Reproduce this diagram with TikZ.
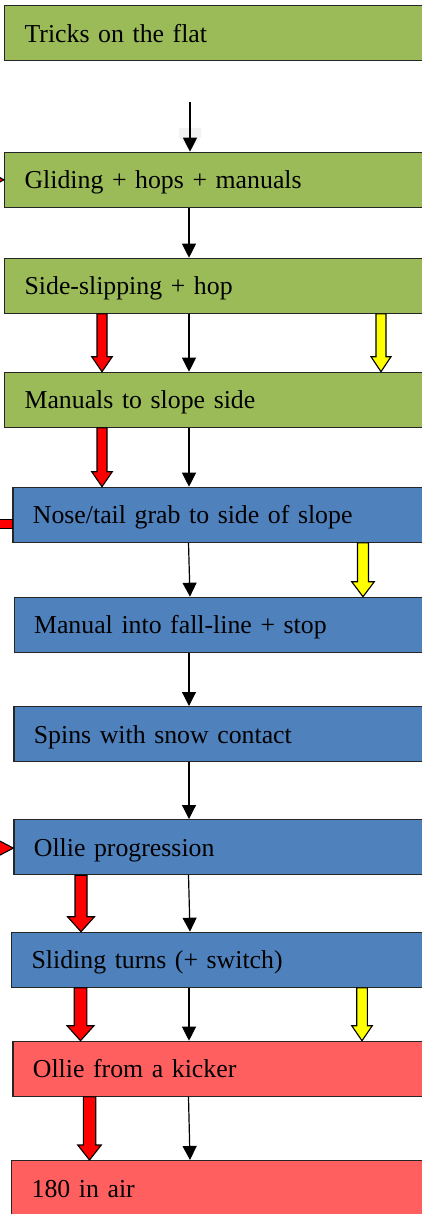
\documentclass[tikz,border=0pt]{standalone}
\usepackage{fontspec}
\setmainfont{Liberation Serif}
\usetikzlibrary{arrows.meta,calc}
\definecolor{boxgreen}{HTML}{9BBB59}
\definecolor{boxblue}{HTML}{4F81BD}
\definecolor{boxred}{HTML}{FF5F5F}
\definecolor{arrred}{HTML}{FF0000}
\definecolor{arryellow}{HTML}{FFFF00}
\tikzset{
  box/.style={draw=black!85, line width=1.2pt, rectangle, anchor=north west,
    minimum height=55pt, inner xsep=20pt, inner ysep=0pt, text width=400pt,
    align=left, text height=18pt, text depth=0pt,
    font=\fontsize{25.8}{30}\selectfont},
  greenbox/.style={box, fill=boxgreen},
  bluebox/.style={box, fill=boxblue},
  redbox/.style={box, fill=boxred},
  arr/.style={-{Triangle[width=14pt,length=14pt]}, line width=1.2pt, black},
  blockred/.style={draw=black, line width=1.1pt, fill=arrred, line join=miter},
  blockyellow/.style={draw=black, line width=1.1pt, fill=arryellow, line join=miter},
  faint/.style={fill=black!5, draw=none}
}
\newcommand\blockarr[6]{%
  \coordinate (ba-s) at (#2 |- #3.south);
  \coordinate (ba-e) at (#2 |- #4.north);
  \draw[#1] ([xshift=-#5pt]ba-s) -- ([xshift=-#5pt,yshift=15pt]ba-e)
    -- ([xshift=-#6pt,yshift=15pt]ba-e) -- (ba-e)
    -- ([xshift=#6pt,yshift=15pt]ba-e) -- ([xshift=#5pt,yshift=15pt]ba-e)
    -- ([xshift=#5pt]ba-s) -- cycle;}
\begin{document}
\begin{tikzpicture}[x=1pt,y=-1pt]
\useasboundingbox (0,0) rectangle (422,1214);
\clip (0,0) rectangle (422,1214);

% boxes
\node[greenbox] (b1) at (4,5) {Tricks on the flat};
\node[greenbox] (b2) at (4,151.7) {Gliding + hops + manuals};
\node[greenbox] (b3) at (4,257.7) {Side-slipping + hop};
\node[greenbox] (b4) at (4,371.7) {Manuals to slope side};
\node[bluebox] (b5) at (12.3,486.7) {Nose/tail grab to side of slope};
\node[bluebox] (b6) at (13.5,596.7) {Manual into fall-line + stop};
\node[bluebox] (b7) at (13.3,706) {Spins with snow contact};
\node[bluebox] (b8) at (13.3,819) {Ollie progression};
\node[bluebox] (b9) at (11,931.7) {Sliding turns (+ switch)};
\node[redbox] (b10) at (12.3,1040.7) {Ollie from a kicker};
\node[redbox] (b11) at (11,1160) {180 in air};

% x positions
\coordinate (x188) at (188.5,0);
\coordinate (x189) at (189,0);
\coordinate (x190) at (190,0);
\coordinate (start) at (190,102);

% faint arrow behind top connector
\fill[faint] (179,128) -- (201,128) -- (201,137) -- (190,150) -- (179,137) -- cycle;

% black connectors
\draw[arr] (start) -- (x190 |- b2.north);
\draw[arr] (x189 |- b2.south) -- (x189 |- b3.north);
\draw[arr] (x189 |- b3.south) -- (x189 |- b4.north);
\draw[arr] (x189 |- b4.south) -- (x189 |- b5.north);
\draw[arr] (x188 |- b5.south) -- (x190 |- b6.north);
\draw[arr] (x189 |- b6.south) -- (x189 |- b7.north);
\draw[arr] (x189 |- b7.south) -- (x189 |- b8.north);
\draw[arr] (x188 |- b8.south) -- (x190 |- b9.north);
\draw[arr] (x189 |- b9.south) -- (x189 |- b10.north);
\draw[arr] (x188 |- b10.south) -- (x190 |- b11.north);

% block arrows
\coordinate (r1) at (102,0);
\coordinate (y1) at (381,0);
\coordinate (y2) at (363,0);
\coordinate (r2) at (81,0);
\coordinate (r3) at (80.5,0);
\coordinate (y3) at (362,0);
\coordinate (r4) at (89.5,0);
\blockarr{blockred}{r1}{b3}{b4}{5}{10.3}
\blockarr{blockyellow}{y1}{b3}{b4}{5}{10}
\blockarr{blockred}{r1}{b4}{b5}{5}{10.3}
\blockarr{blockyellow}{y2}{b5}{b6}{5.5}{11.3}
\blockarr{blockred}{r2}{b8}{b9}{6}{13.5}
\blockarr{blockred}{r3}{b9}{b10}{6.3}{13.5}
\blockarr{blockyellow}{y3}{b9}{b10}{5.3}{10.3}
\blockarr{blockred}{r4}{b10}{b11}{6.2}{11.8}

% arrows entering from the left edge
\draw[blockred] (b2.west) -- ++(-21,-11) -- ++(0,22) -- cycle;
\draw[blockred] ([yshift=-4.5pt]b5.west) rectangle ++(-20,9);
\draw[blockred] ([yshift=-1pt]b8.west) -- ++(-21,-11) -- ++(0,22) -- cycle;
\end{tikzpicture}
\end{document}
